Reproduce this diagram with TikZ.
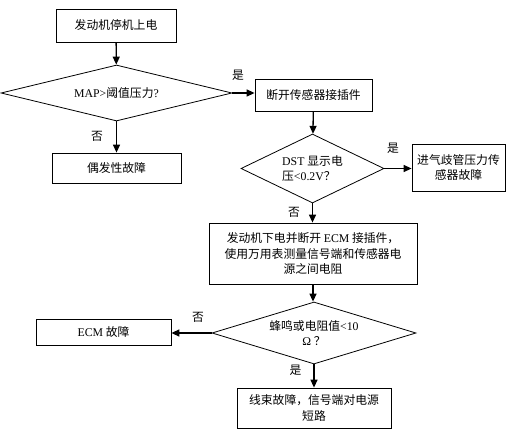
\documentclass[tikz,border=0pt]{standalone}
\usepackage{fontspec}
\setmainfont{Noto Sans CJK SC}
\newfontfamily\latin{Liberation Serif}
\usetikzlibrary{shapes.geometric, arrows.meta}
\tikzset{
    % Text size for all nodes
    every node/.style={font=\fontsize{11.8}{15.5}\selectfont},
    % Process box style
    process/.style={
        rectangle,
        draw=black,
        line width=0.8pt,
        align=center,
        inner sep=2pt
    },
    % Decision box style
    decision/.style={
        diamond,
        draw=black,
        line width=0.8pt,
        align=center,
        aspect=3,
        inner sep=0pt
    },
    % Arrow style
    arrow/.style={
        -{Triangle[length=8pt,width=7pt]},
        line width=1.3pt,
        color=black
    },
    % Yes/No label
    answer/.style={inner sep=0pt}
}
\begin{document}
\begin{tikzpicture}[x=1pt, y=-1pt]
    \useasboundingbox (0,0) rectangle (509,430);
    % Flow chart
    \node (start) [process, minimum width=120pt, minimum height=33pt] at (116,25.5) {发动机停机上电};
    \node (q1) [decision, minimum width=231pt, minimum height=56pt] at (116.5,93) {{\latin MAP>}阈值压力{\latin ?}};
    \node (unplug) [process, minimum width=117pt, minimum height=32pt] at (313.5,95) {断开传感器接插件};
    \node (random) [process, minimum width=129pt, minimum height=30pt] at (116.5,168) {偶发性故障};
    \node (q2) [decision, aspect=2, align=left, minimum width=143pt, minimum height=69pt] at (312.5,168.5) {{\latin DST }显示电\\压{\latin <0.2V}？};
    \node (sensor) [process, minimum width=93pt, minimum height=47pt] at (458.5,167.5) {进气歧管压力传\\感器故障};
    \node (measure) [process, minimum width=208pt, minimum height=61pt] at (313,253.5) {发动机下电并断开 {\latin ECM} 接插件，\\使用万用表测量信号端和传感器电\\源之间电阻};
    \node (q3) [decision, minimum width=204pt, minimum height=62pt] at (314,333) {蜂鸣或电阻值{\latin <10}\\{\latin Ω} ？};
    \node (ecm) [process, minimum width=135pt, minimum height=26pt] at (103.5,332) {{\latin ECM} 故障};
    \node (harness) [process, minimum width=154pt, minimum height=40pt] at (314,408) {线束故障，信号端对电源\\短路};

    \draw [arrow] (start) -- (q1);
    \draw [arrow] (q1) -- node[answer, pos=0.25, above=12pt] {是} (q1 -| unplug.west);
    \draw [arrow] (q1) -- node[answer, pos=0.47, left=13pt] {否} (random);
    \draw [arrow] (unplug) -- (q2);
    \draw [arrow] (q2) -- node[answer, pos=0.32, above=14pt] {是} (q2 -| sensor.west);
    \draw [arrow] (q2) -- node[answer, pos=0.45, left=12pt] {否} (q2 |- measure.north);
    \draw [arrow] (measure) -- (measure |- q3.north);
    \draw [arrow] (q3) -- node[answer, pos=0.34, above=10pt] {否} (q3 -| ecm.east);
    \draw [arrow] (q3) -- node[answer, pos=0.25, left=12pt] {是} (harness);
\end{tikzpicture}
\end{document}
